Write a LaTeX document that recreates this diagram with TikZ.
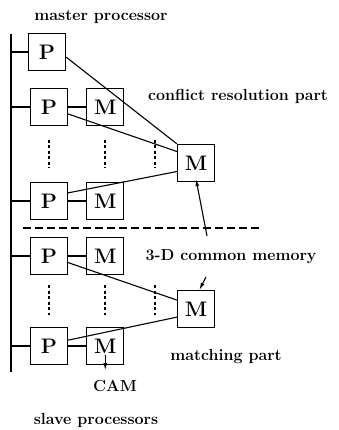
\documentclass[tikz,border=0pt]{standalone}
\usetikzlibrary{arrows.meta,positioning}
\tikzset{
  >={Latex[length=7pt,width=4pt]},
  every node/.style={font=\fontsize{16}{19}\selectfont\bfseries},
  unit/.style={draw,line width=1.3pt,minimum width=37pt,minimum height=37pt,inner sep=0pt,font=\fontsize{21}{25}\selectfont\bfseries},
  wire/.style={line width=1.1pt},
  arrow/.style={->,line width=1.1pt},
  dots/.style={line width=1.4pt,dash pattern=on 3pt off 2.5pt},
  divider/.style={line width=1.1pt,dash pattern=on 8pt off 4pt},
  label/.style={inner sep=1pt},
}
\begin{document}
\begin{tikzpicture}[x=1pt,y=1pt]
\useasboundingbox (0,0) rectangle (339,-430);

% processors and local memories
\node[unit] (p0) at (47,-52) {P};
\node[unit] (p1) at (49,-107) {P};
\node[unit,right=18pt of p1] (m1) {M};
\node[unit] (p2) at (49,-201) {P};
\node[unit,right=18pt of p2] (m2) {M};
\node[unit] (p3) at (49,-256) {P};
\node[unit,right=18pt of p3] (m3) {M};
\node[unit] (p4) at (49,-346) {P};
\node[unit,right=18pt of p4] (m4) {M};

% 3-D common memories
\node[unit] (cr) at (196,-163) {M};
\node[unit] (mp) at (196,-309) {M};

% bus
\coordinate (bustop) at (11,-34);
\coordinate (busbot) at (11,-372);
\draw[wire] (bustop) -- (busbot);
\foreach \n in {p0,p1,p2,p3,p4}
  \draw[wire] (bustop |- \n.west) -- (\n.west);
\foreach \n/\m in {p1/m1,p2/m2,p3/m3,p4/m4}
  \draw[wire] (\n) -- (\m);

% links to the common memories
\draw[wire] (p0.-15) -- (cr.north west);
\draw[wire] (p1.-20) -- (cr.149);
\draw[wire] (p2.23) -- (cr.204);
\draw[wire] (p3.-19) -- (mp.155);
\draw[wire] (p4.17) -- (mp.203);

% dots
\foreach \x in {49,105,155} {
  \draw[dots] (\x,-140) -- (\x,-168);
  \draw[dots] (\x,-285) -- (\x,-315);
}

% master / slave divider
\coordinate (divl) at (23,-228);
\coordinate (divr) at (260,-228);
\draw[divider] (divl) -- (divr);

% labels
\node[label] (master) at (101,-17) {master processor};
\node[label] (conflict) at (238,-96) {conflict resolution part};
\node[label] (common) at (231,-257) {3-D common memory};
\node[label] (matching) at (226,-357) {matching part};
\node[label] (cam) at (115,-386) {CAM};
\node[label] (slave) at (96,-420) {slave processors};

\coordinate (cmtail) at (207,-236);
\coordinate (mptail) at (206,-277);
\draw[arrow] (cmtail) -- ([yshift=3pt]cr.south);
\draw[arrow] (mptail) -- (mp.80);
\draw[arrow] ([yshift=10pt]m4.south) -- ([yshift=-5pt]m4.south);

\end{tikzpicture}
\end{document}
